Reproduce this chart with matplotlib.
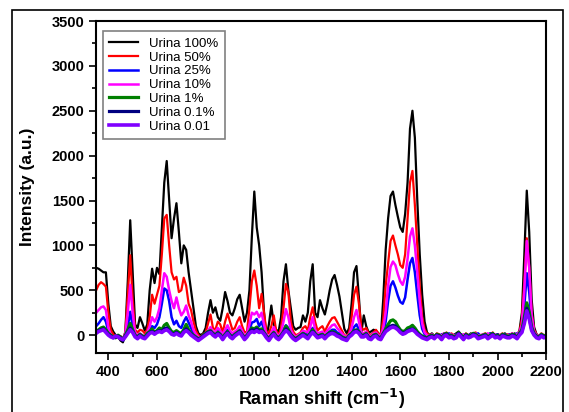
import numpy as np
import matplotlib
matplotlib.use('Agg')
import matplotlib.pyplot as plt
from matplotlib.ticker import MultipleLocator
from matplotlib.patches import Rectangle

plt.rcParams['font.family'] = ['Liberation Sans', 'DejaVu Sans']

# Raman shift grid (cm-1), one reading every 10 cm-1
shift = np.arange(350, 2201, 10)

urina_100 = [
    750, 740, 720, 700, 700, 350, 100, 40, 0, -20,
    -60, -80, 40, 600, 1280, 700, 120, 80, 200, 130,
    50, 120, 500, 740, 580, 750, 680, 1200, 1700, 1940,
    1500, 1080, 1300, 1470, 1150, 800, 1000, 950, 700, 500,
    300, 100, 20, 0, 20, 80, 250, 390, 250, 310,
    200, 160, 300, 480, 380, 250, 220, 300, 400, 450,
    300, 150, 250, 500, 1100, 1600, 1200, 1000, 700, 250,
    -20, 120, 330, 120, 60, 40, 200, 600, 790, 500,
    300, 100, 60, 80, 90, 220, 150, 250, 600, 790,
    250, 200, 390, 300, 230, 350, 500, 620, 670, 560,
    430, 250, 70, 20, 80, 350, 700, 770, 420, 30,
    220, 100, 30, 40, 60, 50, 20, -10, 400, 950,
    1300, 1550, 1600, 1450, 1320, 1200, 1150, 1350, 1700, 2300,
    2500, 2200, 1500, 900, 450, 150, 30, 0, 20, -10,
    10, -20, 0, 20, -10, 10, -30, 0, 20, 40,
    0, -20, 10, -10, 20, 0, -10, 10, -20, 0,
    10, -10, 20, 0, -20, 10, -10, 0, 20, -10,
    10, -10, 20, 0, 50, 250, 900, 1610, 1150, 400,
    90, 10, -20, 0, -10, 10,
]

urina_50 = [
    500, 560, 590, 570, 540, 250, 60, 10, -20, -30,
    -10, -40, 30, 450, 890, 400, 60, 30, 60, 50,
    20, 60, 200, 450, 350, 450, 550, 900, 1300, 1340,
    1000, 700, 620, 650, 480, 500, 640, 550, 350, 280,
    150, 50, 0, -20, 10, 30, 130, 230, 80, 60,
    150, 120, 30, 150, 240, 150, 60, 80, 150, 200,
    100, 30, 40, 300, 600, 720, 550, 300, 460, 250,
    40, 20, 100, 220, 50, 0, 80, 300, 570, 480,
    150, 40, 0, 10, 30, 80, 100, 50, 200, 310,
    150, 50, 80, 100, 40, 100, 150, 190, 200, 150,
    100, 50, 0, -10, 30, 200, 450, 540, 350, 80,
    60, 80, 20, 0, 30, 60, 20, 0, 180, 550,
    800, 1050, 1110, 1000, 900, 780, 750, 900, 1300, 1700,
    1830, 1450, 1000, 550, 200, 60, 20, 0, 10, -20,
    20, 10, -30, 0, 30, -10, 20, 0, -20, 30,
    10, -20, 20, 0, -10, 20, 30, 0, -20, 10,
    20, -10, 0, 30, -20, 10, 0, 20, -10, 10,
    0, 20, -10, 10, 40, 180, 600, 1080, 750, 250,
    60, 10, -10, 20, 0, -20,
]

urina_25 = [
    100, 130, 170, 200, 150, 40, 0, -20, -30, -10,
    -30, -50, 10, 100, 260, 100, 10, -10, 0, -20,
    -10, 10, 50, 100, 80, 120, 200, 350, 520, 500,
    380, 200, 120, 160, 100, 80, 150, 200, 140, 80,
    20, -10, -30, -40, 0, 20, 40, 60, 30, 20,
    50, 20, -10, 30, 60, 20, 0, 20, 40, 60,
    20, -30, 0, 60, 140, 150, 180, 100, 150, 60,
    0, -40, 10, 50, 0, -20, 10, 60, 110, 80,
    30, -10, -30, -10, 0, 30, 20, 0, 40, 80,
    30, 0, 10, 20, -10, 20, 40, 60, 60, 30,
    20, -10, -20, -40, 0, 30, 90, 120, 60, 0,
    10, 20, -10, -20, 0, 10, -10, -20, 30, 150,
    380, 550, 600, 530, 440, 370, 350, 420, 620, 800,
    860, 700, 450, 220, 70, 10, -10, -20, 0, -30,
    0, -20, 10, 0, -10, 20, 0, -20, 10, 0,
    10, -10, -20, 0, 10, -10, 0, 20, -10, -20,
    -10, 0, 20, -10, 0, 10, -20, 0, 10, -10,
    10, -10, 0, 20, 20, 80, 320, 690, 480, 140,
    30, 0, -20, 10, -10, 0,
]

urina_10 = [
    250, 280, 310, 320, 280, 80, 0, -20, -10, -30,
    -20, -40, 20, 250, 560, 250, 30, 0, 20, 0,
    -10, 30, 100, 200, 150, 200, 300, 500, 690, 650,
    500, 380, 300, 420, 300, 220, 260, 330, 220, 150,
    60, 10, -20, -30, 0, 20, 50, 90, 40, 40,
    80, 50, 10, 60, 110, 50, 20, 40, 60, 100,
    50, -10, 20, 120, 250, 230, 260, 200, 250, 120,
    10, -20, 30, 90, 20, -10, 30, 150, 290, 200,
    60, 10, -20, 0, 20, 50, 40, 30, 90, 200,
    60, 20, 30, 40, 10, 50, 80, 110, 120, 80,
    50, 20, -10, -20, 10, 80, 200, 280, 150, 30,
    20, 40, 0, -10, 20, 30, 0, -10, 80, 250,
    550, 760, 820, 780, 680, 600, 560, 650, 850, 1100,
    1190, 1000, 700, 380, 130, 30, 0, -10, 10, -20,
    10, -10, 0, 20, -20, 0, 10, -10, 0, 20,
    -10, 10, 0, -20, 10, 0, 20, -10, 0, 10,
    0, 20, -10, 0, 10, -20, 0, 10, -10, 0,
    0, 20, -10, 10, 30, 120, 500, 1050, 750, 220,
    40, 0, -10, 10, -20, 10,
]

urina_1 = [
    40, 60, 80, 90, 60, 20, 0, -20, -30, 0,
    -20, -50, 0, 60, 130, 60, 0, -20, 10, -10,
    -20, 20, 40, 70, 30, 50, 80, 60, 110, 130,
    80, 40, 30, 50, 30, 20, 60, 120, 60, 20,
    0, -20, -40, -30, 0, 20, 40, 50, 20, 0,
    30, 10, -30, 10, 40, 0, -20, 10, 30, 50,
    10, -30, 0, 40, 80, 70, 90, 60, 70, 30,
    -10, -40, 0, 30, -10, -30, 0, 40, 100, 60,
    10, -20, -40, -20, 0, 20, 0, -20, 20, 60,
    20, -10, 0, 10, -20, 10, 30, 40, 30, 10,
    0, -20, -30, -40, 0, 20, 50, 60, 40, 0,
    0, 20, -20, -30, 0, 10, -20, -30, 20, 70,
    120, 160, 170, 150, 100, 60, 40, 50, 80, 90,
    110, 80, 40, 10, -10, -20, -30, -10, 0, -20,
    10, 0, -30, 10, 20, -10, 0, -20, -10, 30,
    0, -30, 10, -10, 0, 20, 10, -20, -10, 0,
    10, -20, 0, 20, -10, 0, -20, 10, 0, -10,
    -10, 10, 0, -20, 20, 60, 200, 360, 260, 90,
    20, -10, -20, 10, -10, 0,
]

urina_01 = [
    30, 50, 60, 70, 40, 10, -10, -30, -20, -10,
    -30, -60, -10, 30, 80, 40, -10, -30, 0, -20,
    -30, 0, 30, 40, 20, 40, 50, 40, 70, 80,
    50, 20, 10, 30, 10, 0, 40, 70, 40, 10,
    -10, -30, -50, -30, -10, 10, 30, 40, 10, -10,
    20, 0, -40, 0, 30, -10, -30, 0, 20, 40,
    0, -40, -10, 30, 60, 50, 70, 40, 50, 20,
    -20, -50, -10, 20, -20, -40, -10, 30, 70, 40,
    0, -30, -50, -30, -10, 10, -10, -30, 10, 40,
    10, -20, -10, 0, -30, 0, 20, 30, 20, 0,
    -10, -30, -40, -50, -10, 10, 40, 50, 30, -10,
    -10, 10, -30, -40, -10, 0, -30, -40, 10, 50,
    80, 100, 110, 100, 70, 40, 20, 30, 50, 60,
    70, 50, 20, 0, -20, -30, -40, -20, -10, -30,
    0, -10, -40, 0, 10, -20, -10, -30, -20, 20,
    -10, -40, 0, -20, -10, 10, 0, -30, -20, -10,
    0, -30, -10, 10, -20, -10, -30, 0, -10, -20,
    -20, 0, -10, -30, 10, 40, 150, 300, 200, 60,
    10, -20, -30, 0, -20, -10,
]

urina_001 = [
    20, 40, 50, 60, 30, 0, -20, -30, -10, -20,
    -40, -50, -20, 20, 60, 30, -20, -40, -10, -30,
    -40, -10, 20, 30, 10, 30, 40, 30, 50, 60,
    40, 10, 0, 20, 0, -10, 30, 50, 30, 0,
    -20, -40, -60, -40, -20, 0, 20, 30, 0, -20,
    10, -10, -50, -10, 20, -20, -40, -10, 10, 30,
    -10, -50, -20, 20, 40, 30, 50, 30, 40, 10,
    -30, -60, -20, 10, -30, -50, -20, 20, 50, 30,
    -10, -40, -60, -40, -20, 0, -20, -40, 0, 30,
    0, -30, -20, -10, -40, -10, 10, 20, 10, -10,
    -20, -40, -50, -60, -20, 0, 30, 40, 20, -20,
    -20, 0, -40, -50, -20, -10, -40, -50, 0, 40,
    60, 80, 90, 80, 60, 30, 10, 20, 40, 50,
    60, 40, 10, -10, -30, -40, -50, -30, -20, -40,
    -10, -20, -50, -10, 0, -30, -20, -40, -30, 10,
    -20, -50, -10, -30, -20, 0, -10, -40, -30, -20,
    -10, -40, -20, 0, -30, -20, -40, -10, -20, -30,
    -30, -10, -20, -40, 0, 30, 130, 270, 180, 50,
    0, -30, -40, -10, -30, -20,
]

labels = ['Urina 100%', 'Urina 50%', 'Urina 25%', 'Urina 10%',
          'Urina 1%', 'Urina 0.1%', 'Urina 0.01']
series = [urina_100, urina_50, urina_25, urina_10, urina_1, urina_01, urina_001]
colors = ['#000000', '#ff0000', '#0000ff', '#ff00ff', '#008000', '#000080', '#8000ff']
widths = [1.6, 1.6, 1.8, 1.8, 2.3, 2.3, 2.6]

fig = plt.figure(figsize=(5.69, 4.12), dpi=100)
ax = fig.add_axes([0.169, 0.143, 0.791, 0.806])

for y, c, lw, lab in zip(series, colors, widths, labels):
    ax.plot(shift, y, color=c, lw=lw, label=lab)

ax.set_xlim(350, 2200)
ax.set_ylim(-200, 3500)
ax.xaxis.set_major_locator(MultipleLocator(200))
ax.xaxis.set_minor_locator(MultipleLocator(100))
ax.yaxis.set_major_locator(MultipleLocator(500))
ax.yaxis.set_minor_locator(MultipleLocator(250))
ax.tick_params(which='both', direction='out', width=1.2)
ax.tick_params(which='major', length=5, labelsize=10.5)
ax.tick_params(which='minor', length=3)
for lbl in ax.get_xticklabels() + ax.get_yticklabels():
    lbl.set_fontweight('bold')
for sp in ax.spines.values():
    sp.set_linewidth(1.5)

ax.set_xlabel('Raman shift (cm$^{\\mathbf{-1}}$)', fontsize=13, fontweight='bold', labelpad=6)
ax.set_ylabel('Intensity (a.u.)', fontsize=12.5, fontweight='bold', labelpad=12)

leg = ax.legend(loc='upper left', bbox_to_anchor=(0.0, 0.99), fontsize=9.5,
                handlelength=2.2, labelspacing=0.12, borderpad=0.5,
                fancybox=False, framealpha=1, edgecolor='#808080')
leg.get_frame().set_linewidth(1.2)

# outer frame around the whole picture
fig.patches.append(Rectangle((12 / 569, -0.01), 551 / 569, 1 - 10 / 412 + 0.01,
                             transform=fig.transFigure, fill=False,
                             edgecolor='black', lw=1.2))

fig.savefig('out.png', dpi=100)
